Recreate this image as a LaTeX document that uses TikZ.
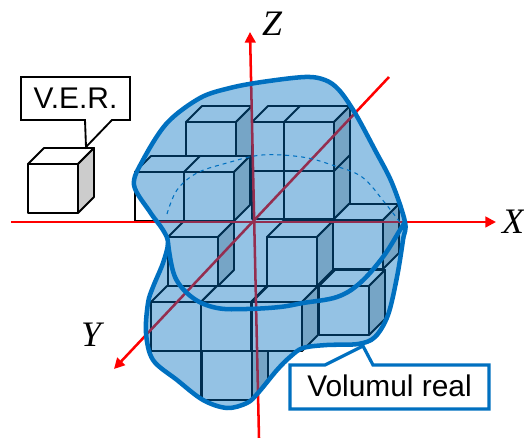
\documentclass[tikz,border=0pt]{standalone}
\usepackage{fontspec}
\setmainfont{Liberation Sans}
\newfontfamily\axisfont{Liberation Serif}
\usepackage{tikz}
\usetikzlibrary{arrows.meta}
\definecolor{volblue}{RGB}{0,112,192}
\newcommand{\conturvol}{plot[smooth cycle, tension=0.55] coordinates {
    (134,185) (143,160) (167,123) (200,98) (230,88) (262,82) (305,77) (325,80) (339,90)
    (355,113) (375,150) (392,183) (405,222) (403,240) (397,277) (388,315) (375,337)
    (358,344) (327,345) (303,348) (290,357) (277,370) (258,393) (247,403) (227,408)
    (203,400) (177,380) (153,360) (146,333) (148,303) (153,287) (163,263) (168,243)
    (163,230) (150,212)}}
\newcommand{\cubvol}[2]{
  \filldraw[muchie, fill=white] (#1,#2) -- ++(16,-16) -- ++(50,0) -- ++(-16,16) -- cycle;
  \filldraw[muchie, fill=black!20] (#1+50,#2) -- ++(16,-16) -- ++(0,49) -- ++(-16,16) -- cycle;
  \filldraw[muchie, fill=white] (#1,#2) rectangle ++(50,49);
}
\tikzset{
  muchie/.style={draw=black, line width=1.4pt, line join=round},
  axa/.style={draw=red, line width=1.9pt, -{Triangle[length=8pt,width=8pt]}},
  axalabel/.style={font=\axisfont\itshape\fontsize{27}{27}\selectfont},
  boxlabel/.style={font=\fontsize{22.5}{22.5}\selectfont},
}
\begin{document}
\begin{tikzpicture}[x=0.02646cm, y=-0.02646cm]
    \useasboundingbox (0,0) rectangle (524,438);
    % Randul de jos, taiat de contur
    \begin{scope}
      \clip \conturvol;
      \foreach \x/\y in {151/351, 202/351} {
        \cubvol{\x}{\y}
      }
    \end{scope}
    % Cuburile, din spate in fata
    \foreach \x/\y in {252/170, 284/170, 186/122, 252/122, 284/122, 135/172, 184/172,
                       333/220, 168/237, 267/237, 319/286, 151/302, 201/302, 252/302} {
      \cubvol{\x}{\y}
    }
    % Axe
    \coordinate (xs) at (11,222);
    \coordinate (xe) at (496,222);
    \coordinate (zs) at (259,438);
    \coordinate (ze) at (250,32);
    \coordinate (ys) at (389,77);
    \coordinate (ye) at (114,369);
    \draw[axa] (xs) -- (xe);
    \draw[axa] (zs) -- (ze);
    \draw[axa] (ys) -- (ye);
    \node[axalabel] (labelz) at (272,24) {Z};
    \node[axalabel] (labelx) at (513,222) {X};
    \node[axalabel] (labely) at (91,335) {Y};
    % Volumul real
    \draw[volblue, line width=3.4pt, fill=volblue, fill opacity=0.42, draw opacity=1] \conturvol;
    \draw[volblue, line width=3.4pt] plot[smooth, tension=0.6] coordinates {
        (168,243) (175,277) (193,298) (217,308) (247,309) (280,307) (303,303) (337,297)
        (360,283) (383,257) (400,230) (405,222)};
    \draw[volblue, line width=0.8pt, dashed] plot[smooth, tension=0.6] coordinates {
        (167,214) (177,190) (197,173) (227,163) (262,155) (302,157) (332,165) (362,177)
        (385,203) (402,225)};
    % Cubul V.E.R.
    \cubvol{28}{164}
    % Etichete
    \draw[black, line width=1.4pt, fill=white] (21,77) -- (130,77) -- (130,120) -- (112,120)
      -- (86,147) -- (85,120) -- (21,120) -- cycle;
    \node[boxlabel] (ver) at (75.5,98) {V.E.R.};
    \draw[volblue, line width=2.4pt, fill=white] (290,365) -- (325,365) -- (363,346) -- (373,365)
      -- (489,365) -- (489,409) -- (290,409) -- cycle;
    \node[boxlabel] (real) at (389.5,386) {Volumul real};
  \end{tikzpicture}
\end{document}
